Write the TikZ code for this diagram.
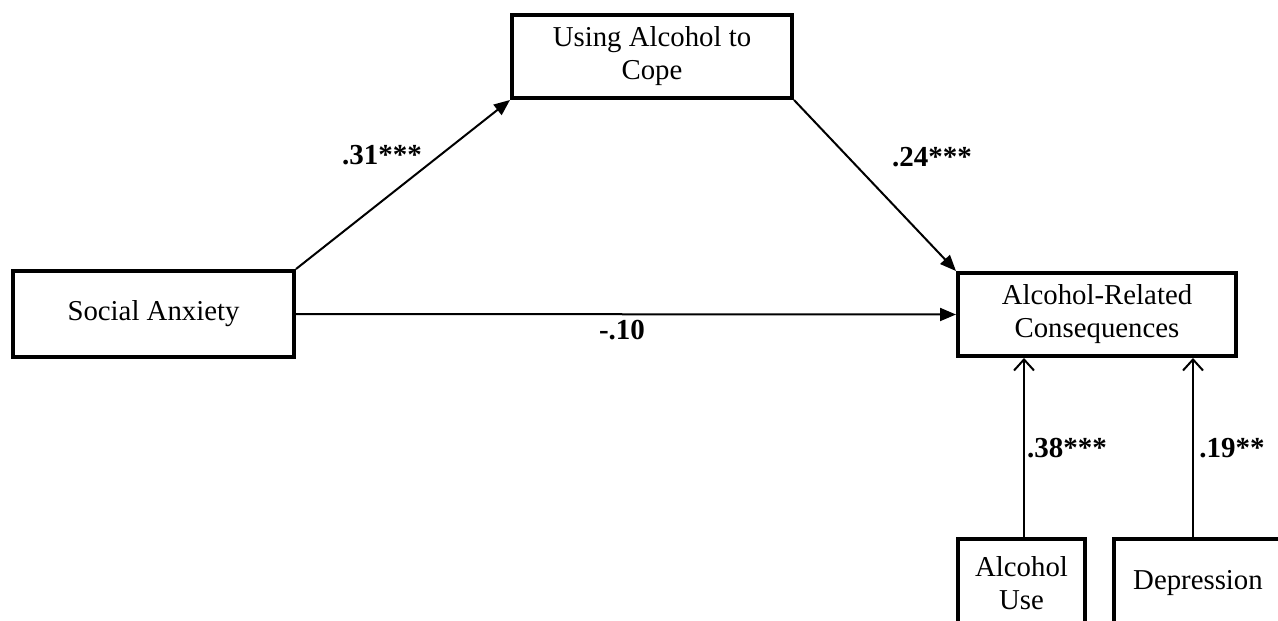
\documentclass[tikz,border=0pt]{standalone}
\usepackage{fontspec}
\setmainfont{Liberation Serif}
\usetikzlibrary{arrows.meta}
\begin{document}
\begin{tikzpicture}[x=1pt,y=-1pt,
  varbox/.style={draw, line width=4pt, inner sep=0pt, align=center,
    font=\fontsize{28.8}{33}\selectfont},
  path/.style={line width=2pt, -{Triangle[length=16pt,width=13pt]}},
  barb/.style={line width=2pt, -{Straight Barb[length=11pt,width=20pt,line width=2pt]}},
  coef/.style={font=\fontsize{29}{33}\selectfont\bfseries}]
\useasboundingbox (0,0) rectangle (1278,621);
\clip (0,0) rectangle (1278,621);
\fill[white] (0,0) rectangle (1278,621);
% variables
\node[varbox, minimum width=281pt, minimum height=86pt] (sa) at (153.5,314) {Social Anxiety};
\node[varbox, minimum width=280pt, minimum height=83pt] (cope) at (652,56.5) {Using Alcohol to\\Cope};
\node[varbox, minimum width=278pt, minimum height=83pt] (arc) at (1097,314.5) {Alcohol-Related\\Consequences};
\node[varbox, minimum width=127pt, minimum height=88pt] (use) at (1021.5,583) {Alcohol\\Use};
\node[varbox, minimum width=168pt, minimum height=88pt] (dep) at (1198,583) {Depression};
% paths
\draw[path] (sa.north east) -- (cope.south west);
\draw[path] (cope.south east) -- (arc.north west);
\draw[path] (sa.east) -- (arc.west);
\draw[barb] ([xshift=2.5pt]use.north) -- ([xshift=2.5pt]use.north |- arc.south);
\draw[barb] ([xshift=-5pt]dep.north) -- ([xshift=-5pt]dep.north |- arc.south);
% coefficients
\node[coef] (c1) at (382,155) {.31***};
\node[coef] (c2) at (932,157) {.24***};
\node[coef] (c3) at (622,330) {-.10};
\node[coef] (c4) at (1067,448) {.38***};
\node[coef] (c5) at (1232,448) {.19**};
\end{tikzpicture}
\end{document}
